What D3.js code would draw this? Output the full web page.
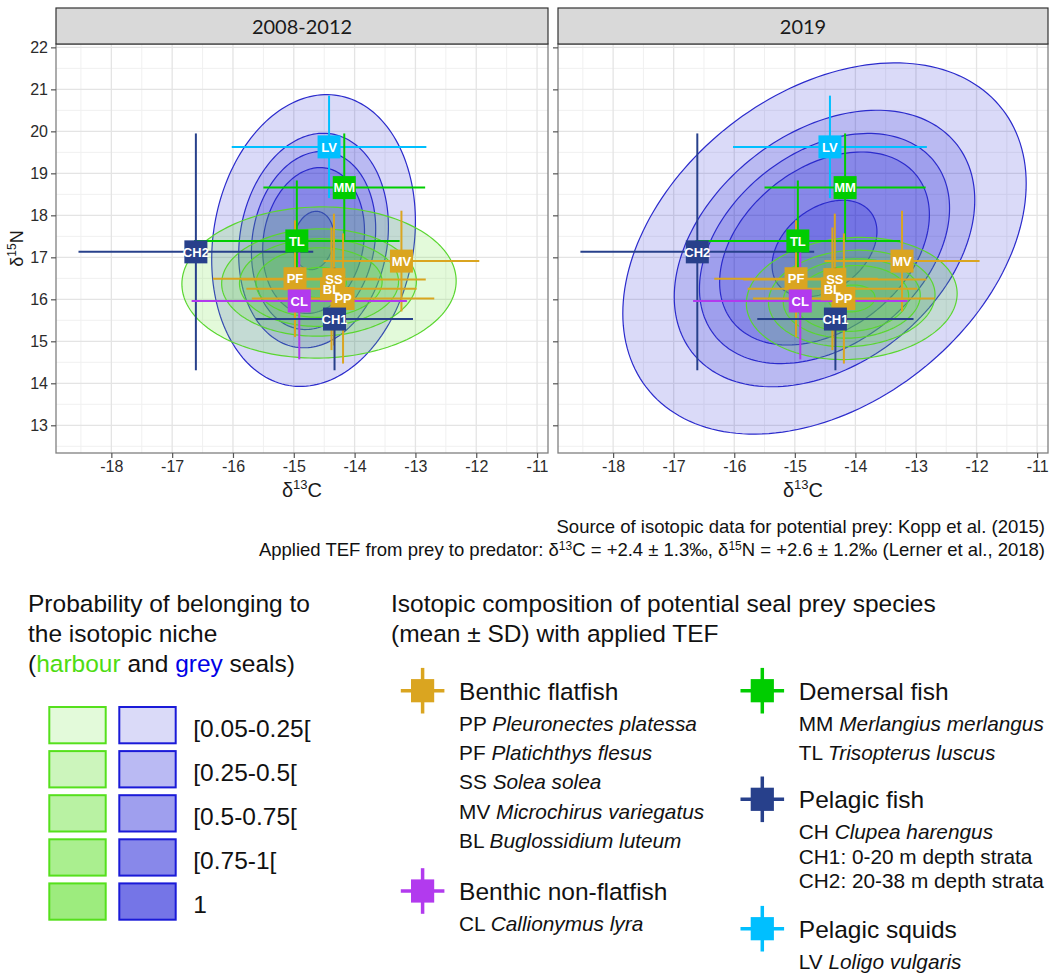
<!DOCTYPE html>
<html>
<head>
<meta charset="utf-8">
<script src="https://cdn.jsdelivr.net/npm/d3@7"></script>
<style>
body { margin: 0; background: #ffffff; }
</style>
</head>
<body>
<svg id="chart" width="1049" height="974"></svg>
<script>
'use strict';

var aPanelTitles = ['2008-2012', '2019'];
var aTicksC = [-18, -17, -16, -15, -14, -13, -12, -11];
var aTicksN = [13, 14, 15, 16, 17, 18, 19, 20, 21, 22];

// prey means and SDs (TEF applied), drawing order
var aPreyCodes = ['MV', 'LV', 'MM', 'TL', 'CH2', 'SS', 'BL', 'PF', 'PP', 'CL', 'CH1'];
var aPreyGroup = [0, 4, 2, 2, 3, 0, 0, 0, 0, 1, 3];
var aPreyMeanC = [-13.23, -14.42, -14.17, -14.95, -16.61, -14.34, -14.38, -14.98, -14.19, -14.91, -14.33];
var aPreySdC   = [1.28, 1.60, 1.33, 1.69, 1.93, 1.51, 1.40, 1.35, 1.50, 1.77, 1.29];
var aPreyMeanN = [16.91, 19.63, 18.66, 17.39, 17.13, 16.47, 16.25, 16.49, 16.02, 15.96, 15.53];
var aPreySdN   = [1.20, 1.22, 1.29, 1.44, 2.82, 1.57, 1.46, 1.39, 1.55, 1.39, 1.22];

// seal niches: one entry per panel and species
var aNichePanel  = [0, 0, 1, 1];
var aNicheSeal   = ['grey', 'harbour', 'grey', 'harbour'];
var aNicheMeanC  = [-14.675, -14.585, -14.51, -14.06];
var aNicheMeanN  = [17.40, 16.40, 17.21, 16.02];
var aNicheHalfC  = [1.675, 2.255, 3.33, 1.74];
var aNicheHalfN  = [3.475, 1.80, 4.42, 1.455];
var aNicheRho    = [0.13, 0.02, 0.35, 0.08];
var aNicheLevels = [
	[1, 0.735, 0.61, 0.50, 0.20],
	[1, 0.71, 0.58, 0.46, 0.20],
	[1, 0.745, 0.62, 0.52, 0.26],
	[1, 0.79, 0.65, 0.54, 0.22]
];

var aProbLabels = ['[0.05-0.25[', '[0.25-0.5[', '[0.5-0.75[', '[0.75-1[', '1'];

var aGroupNames = ['Benthic flatfish', 'Benthic non-flatfish', 'Demersal fish', 'Pelagic fish', 'Pelagic squids'];
// [code, italic name, plain text]
var aGroupLines = [
	[['PP', 'Pleuronectes platessa', ''], ['PF', 'Platichthys flesus', ''], ['SS', 'Solea solea', ''], ['MV', 'Microchirus variegatus', ''], ['BL', 'Buglossidium luteum', '']],
	[['CL', 'Callionymus lyra', '']],
	[['MM', 'Merlangius merlangus', ''], ['TL', 'Trisopterus luscus', '']],
	[['CH', 'Clupea harengus', ''], ['CH1:', '', '0-20 m depth strata'], ['CH2:', '', '20-38 m depth strata']],
	[['LV', 'Loligo vulgaris', '']]
];

function D3_IsotopicNiches(vSelector)
{
	var sSvg = d3.select(vSelector);
	if (sSvg.empty() == true)
	{
		console.log('D3_IsotopicNiches: Could not identify element based on selector: '+vSelector);
		return;
	}

	var strFont = "'Liberation Sans', Arial, sans-serif";
	var aGroupColors = ['#DAA520', '#B23AEE', '#00CD00', '#27408B', '#00BFFF'];
	var rSeal = {
		grey:    {fill: 'rgb(0,0,210)',    alpha: 0.145, stroke: '#2b2bcc', legend: '#1a1ad8'},
		harbour: {fill: 'rgb(100,225,50)', alpha: 0.18,  stroke: '#5ad630', legend: '#55e01c'}
	};

	var nPlotTop = 44, nPlotBottom = 453;
	var aPanelX = [[56, 548], [558, 1048]];
	var scaleY = d3.scaleLinear().domain([12.34, 22.08]).range([nPlotBottom, nPlotTop]);

	function Layered(strColor, nAlpha, nLayers)
	{
		var c = d3.rgb(strColor);
		var f = 1 - Math.pow(1 - nAlpha, nLayers);
		return d3.rgb(255 - (255 - c.r)*f, 255 - (255 - c.g)*f, 255 - (255 - c.b)*f).formatHex();
	}

	function NichePoints(i, nScale)
	{
		var aPts = [];
		var nRho = aNicheRho[i];
		var nRoot = Math.sqrt(1 - nRho*nRho);
		for (var nDeg = 0; nDeg < 360; nDeg += 2)
		{
			var t = nDeg*Math.PI/180;
			aPts.push([
				aNicheMeanC[i] + nScale*aNicheHalfC[i]*Math.cos(t),
				aNicheMeanN[i] + nScale*aNicheHalfN[i]*(nRho*Math.cos(t) + nRoot*Math.sin(t))
			]);
		}
		return aPts;
	}

	sSvg.append('rect').attr('width', 1049).attr('height', 974).attr('fill', '#ffffff');

	aPanelTitles.forEach(function(strTitle, nPanel)
	{
		var nLeft = aPanelX[nPanel][0], nRight = aPanelX[nPanel][1];
		var scaleX = d3.scaleLinear().domain([-18.91, -10.82]).range([nLeft, nRight]);
		var sPanel = sSvg.append('g').attr('class', 'panel');

		sSvg.append('clipPath').attr('id', 'clip'+nPanel)
			.append('rect')
				.attr('x', nLeft).attr('y', nPlotTop)
				.attr('width', nRight - nLeft).attr('height', nPlotBottom - nPlotTop);

		// grid
		var sGrid = sPanel.append('g');
		sGrid.selectAll('.minx').data(aTicksC.map(function(v) { return v - 0.5; })).enter()
			.append('line')
				.attr('x1', function(v) { return scaleX(v); }).attr('x2', function(v) { return scaleX(v); })
				.attr('y1', nPlotTop).attr('y2', nPlotBottom)
				.attr('stroke', '#f0f0f0').attr('stroke-width', 1);
		sGrid.selectAll('.miny').data(aTicksN.map(function(v) { return v - 0.5; })).enter()
			.append('line')
				.attr('y1', function(v) { return scaleY(v); }).attr('y2', function(v) { return scaleY(v); })
				.attr('x1', nLeft).attr('x2', nRight)
				.attr('stroke', '#f0f0f0').attr('stroke-width', 1);
		sGrid.selectAll('.majx').data(aTicksC).enter()
			.append('line')
				.attr('x1', function(v) { return scaleX(v); }).attr('x2', function(v) { return scaleX(v); })
				.attr('y1', nPlotTop).attr('y2', nPlotBottom)
				.attr('stroke', '#e4e4e4').attr('stroke-width', 1.3);
		sGrid.selectAll('.majy').data(aTicksN).enter()
			.append('line')
				.attr('y1', function(v) { return scaleY(v); }).attr('y2', function(v) { return scaleY(v); })
				.attr('x1', nLeft).attr('x2', nRight)
				.attr('stroke', '#e4e4e4').attr('stroke-width', 1.3);

		// niche contours
		var lineNiche = d3.line()
			.x(function(d) { return scaleX(d[0]); })
			.y(function(d) { return scaleY(d[1]); })
			.curve(d3.curveLinearClosed);

		var sNiches = sPanel.append('g').attr('clip-path', 'url(#clip'+nPanel+')');
		aNichePanel.forEach(function(nP, i)
		{
			if (nP != nPanel) return;
			var rStyle = rSeal[aNicheSeal[i]];
			sNiches.append('g').selectAll('path')
				.data(aNicheLevels[i])
				.enter()
					.append('path')
						.attr('d', function(nScale) { return lineNiche(NichePoints(i, nScale)); })
						.attr('fill', rStyle.fill)
						.attr('fill-opacity', rStyle.alpha)
						.attr('stroke', rStyle.stroke)
						.attr('stroke-width', 1.2);
		});

		// prey error bars
		var sBars = sPanel.append('g').attr('clip-path', 'url(#clip'+nPanel+')');
		aPreyCodes.forEach(function(strCode, i)
		{
			var strColor = aGroupColors[aPreyGroup[i]];
			sBars.append('line')
				.attr('x1', scaleX(aPreyMeanC[i] - aPreySdC[i])).attr('x2', scaleX(aPreyMeanC[i] + aPreySdC[i]))
				.attr('y1', scaleY(aPreyMeanN[i])).attr('y2', scaleY(aPreyMeanN[i]))
				.attr('stroke', strColor).attr('stroke-width', 2);
			sBars.append('line')
				.attr('x1', scaleX(aPreyMeanC[i])).attr('x2', scaleX(aPreyMeanC[i]))
				.attr('y1', scaleY(aPreyMeanN[i] - aPreySdN[i])).attr('y2', scaleY(aPreyMeanN[i] + aPreySdN[i]))
				.attr('stroke', strColor).attr('stroke-width', 2);
		});

		// prey squares first, codes on top
		sPanel.append('g').selectAll('rect')
			.data(aPreyCodes)
			.enter()
				.append('rect')
					.attr('x', function(d, i) { return scaleX(aPreyMeanC[i]) - 11.5; })
					.attr('y', function(d, i) { return scaleY(aPreyMeanN[i]) - 11.5; })
					.attr('width', 23).attr('height', 23)
					.attr('fill', function(d, i) { return aGroupColors[aPreyGroup[i]]; });
		sPanel.append('g').selectAll('text')
			.data(aPreyCodes)
			.enter()
				.append('text')
					.attr('x', function(d, i) { return scaleX(aPreyMeanC[i]); })
					.attr('y', function(d, i) { return scaleY(aPreyMeanN[i]) + 4.7; })
					.attr('text-anchor', 'middle')
					.style('font-family', strFont).style('font-size', '13px').style('font-weight', 'bold')
					.attr('fill', '#ffffff')
					.text(function(d) { return d; });

		sPanel.append('rect')
			.attr('x', nLeft).attr('y', nPlotTop)
			.attr('width', nRight - nLeft).attr('height', nPlotBottom - nPlotTop)
			.attr('fill', 'none').attr('stroke', '#808080').attr('stroke-width', 1.3);

		// axes
		var axisX = d3.axisBottom(scaleX).tickValues(aTicksC).tickSize(5).tickPadding(3)
			.tickFormat(function(d) { return String(d); });
		var sAxisX = sPanel.append('g').attr('transform', 'translate(0,' + nPlotBottom + ')').call(axisX);
		var axisY = d3.axisLeft(scaleY).tickValues(aTicksN).tickSize(5).tickPadding(3)
			.tickFormat(function(d) { return nPanel > 0 ? '' : String(d); });
		var sAxisY = sPanel.append('g').attr('transform', 'translate(' + nLeft + ',0)').call(axisY);
		[sAxisX, sAxisY].forEach(function(sAxis)
		{
			sAxis.select('.domain').remove();
			sAxis.selectAll('.tick line').attr('stroke', '#555555').attr('stroke-width', 1.2);
			sAxis.selectAll('.tick text')
				.style('font-family', strFont).style('font-size', '16px').attr('fill', '#2b2b2b');
		});

		// strip
		sPanel.append('rect')
			.attr('x', nLeft).attr('y', 8)
			.attr('width', nRight - nLeft).attr('height', 36)
			.attr('fill', '#d9d9d9').attr('stroke', '#333333').attr('stroke-width', 1.2);
		sPanel.append('text')
			.attr('x', (nLeft + nRight)/2).attr('y', 34)
			.attr('text-anchor', 'middle')
			.style('font-family', "Lato, 'Open Sans', sans-serif").style('font-size', '20px')
			.attr('fill', '#1a1a1a')
			.text(strTitle);

		var sTitleX = sPanel.append('text')
			.attr('x', (nLeft + nRight)/2).attr('y', 497)
			.attr('text-anchor', 'middle')
			.style('font-family', strFont).style('font-size', '20px').attr('fill', '#1a1a1a');
		sTitleX.append('tspan').text('δ');
		sTitleX.append('tspan').attr('dy', -8).style('font-size', '13px').text('13');
		sTitleX.append('tspan').attr('dy', 8).text('C');
	});

	var sTitleY = sSvg.append('text')
		.attr('transform', 'translate(23,248.5) rotate(-90)')
		.attr('text-anchor', 'middle')
		.style('font-family', strFont).style('font-size', '18px').attr('fill', '#1a1a1a');
	sTitleY.append('tspan').text('δ');
	sTitleY.append('tspan').attr('dy', -7).style('font-size', '12px').text('15');
	sTitleY.append('tspan').attr('dy', 7).text('N');

	// caption
	var sCaption = sSvg.append('g')
		.style('font-family', strFont).style('font-size', '18.5px').attr('fill', '#111111');
	sCaption.append('text')
		.attr('x', 1045).attr('y', 533).attr('text-anchor', 'end')
		.text('Source of isotopic data for potential prey: Kopp et al. (2015)');
	var sTef = sCaption.append('text').attr('x', 1045).attr('y', 556).attr('text-anchor', 'end');
	sTef.append('tspan').text('Applied TEF from prey to predator: δ');
	sTef.append('tspan').attr('dy', -6).style('font-size', '12px').text('13');
	sTef.append('tspan').attr('dy', 6).text('C = +2.4 ± 1.3‰, δ');
	sTef.append('tspan').attr('dy', -6).style('font-size', '12px').text('15');
	sTef.append('tspan').attr('dy', 6).text('N = +2.6 ± 1.2‰ (Lerner et al., 2018)');

	// probability legend
	var sProb = sSvg.append('g').style('font-family', strFont).style('font-size', '24.5px').attr('fill', '#111111');
	sProb.append('text').attr('x', 28).attr('y', 612).text('Probability of belonging to');
	sProb.append('text').attr('x', 28).attr('y', 641.7).text('the isotopic niche');
	var sSeals = sProb.append('text').attr('x', 28).attr('y', 671.5);
	sSeals.append('tspan').text('(');
	sSeals.append('tspan').attr('fill', '#4fdc12').text('harbour');
	sSeals.append('tspan').text(' and ');
	sSeals.append('tspan').attr('fill', '#0000e6').text('grey');
	sSeals.append('tspan').text(' seals)');

	var sRows = sProb.selectAll('.probrow')
		.data(aProbLabels)
		.enter()
			.append('g')
				.attr('class', 'probrow')
				.attr('transform', function(d, i) { return 'translate(0,' + (706 + i*44.1) + ')'; });
	sRows.append('rect')
		.attr('x', 49.3).attr('y', 1).attr('width', 56.4).attr('height', 36.3)
		.attr('fill', function(d, i) { return Layered(rSeal.harbour.fill, rSeal.harbour.alpha, i + 1); })
		.attr('stroke', rSeal.harbour.legend).attr('stroke-width', 2);
	sRows.append('rect')
		.attr('x', 119.3).attr('y', 1).attr('width', 56.4).attr('height', 36.3)
		.attr('fill', function(d, i) { return Layered(rSeal.grey.fill, rSeal.grey.alpha, i + 1); })
		.attr('stroke', rSeal.grey.legend).attr('stroke-width', 2);
	sRows.append('text')
		.attr('x', 193.3).attr('y', 30.5)
		.text(function(d) { return d; });

	// prey legend
	var sPrey = sSvg.append('g').style('font-family', strFont).attr('fill', '#111111');
	sPrey.append('text').attr('x', 391).attr('y', 612).style('font-size', '24.5px')
		.text('Isotopic composition of potential seal prey species');
	sPrey.append('text').attr('x', 391).attr('y', 641.7).style('font-size', '24.5px')
		.text('(mean ± SD) with applied TEF');

	var aIconX = [422.6, 422.6, 762.3, 762.3, 762.3];
	var aIconY = [690.7, 891, 690.7, 799.3, 928.7];
	var aLinePitch = [29.4, 29.4, 29.3, 24.5, 29.4];

	aGroupNames.forEach(function(strName, g)
	{
		var sItem = sPrey.append('g').attr('transform', 'translate(' + aIconX[g] + ',' + aIconY[g] + ')');
		sItem.append('line').attr('x1', -21.8).attr('x2', 21.8)
			.attr('stroke', aGroupColors[g]).attr('stroke-width', 3.5);
		sItem.append('line').attr('y1', -22.8).attr('y2', 22.8)
			.attr('stroke', aGroupColors[g]).attr('stroke-width', 3.5);
		sItem.append('rect').attr('x', -11.6).attr('y', -11.6).attr('width', 23.2).attr('height', 23.2)
			.attr('fill', aGroupColors[g]);
		sItem.append('text').attr('x', 36.5).attr('y', 9).style('font-size', '24.5px').text(strName);

		aGroupLines[g].forEach(function(aLine, k)
		{
			var sLine = sItem.append('text')
				.attr('x', 36.5).attr('y', 40 + k*aLinePitch[g])
				.style('font-size', '20.8px');
			sLine.append('tspan').text(aLine[0] + ' ');
			if (aLine[1] != '') sLine.append('tspan').style('font-style', 'italic').text(aLine[1]);
			if (aLine[2] != '') sLine.append('tspan').text(aLine[2]);
		});
	});
}

D3_IsotopicNiches('#chart');
</script>
</body>
</html>
